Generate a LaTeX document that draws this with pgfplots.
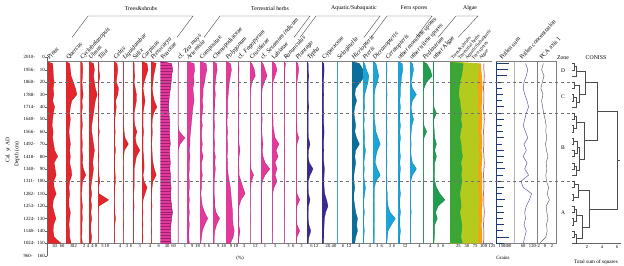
\documentclass[border=0pt]{standalone}
\usepackage{pgfplots}
\pgfplotsset{compat=1.18}
\usepackage{pgfplotstable}
\usepackage{fontspec}
\setmainfont{Liberation Serif}
\usetikzlibrary{patterns}

\definecolor{treefill}{HTML}{E3262B}
\definecolor{treeline}{HTML}{A8141A}
\definecolor{treeax}{HTML}{E0A0A0}
\definecolor{herbfill}{HTML}{E2399A}
\definecolor{herbline}{HTML}{9E1F72}
\definecolor{herbax}{HTML}{DDA2D2}
\definecolor{aquafill}{HTML}{3B2B90}
\definecolor{aquaax}{HTML}{A49CCF}
\definecolor{fernfill}{HTML}{1AA5D8}
\definecolor{fernline}{HTML}{0B6E9A}
\definecolor{fernax}{HTML}{8FD3E6}
\definecolor{algfill}{HTML}{1F9E4F}
\definecolor{algax}{HTML}{8FCFA6}
\definecolor{sgreen}{HTML}{3BA535}
\definecolor{sylw}{HTML}{B4CB1E}
\definecolor{sorng}{HTML}{F7A11A}
\definecolor{navy}{HTML}{1F3B73}
\definecolor{concl}{HTML}{5C5CA8}

\newcommand\ts{\fontsize{4.6}{5}\selectfont}
\newcommand\hs{\fontsize{6.2}{7}\selectfont}

\pgfplotstableread{
d Pin Que Cyc Ulm Til Cel Liq Sal Car Pte
3.5 0 0 0 0 0 0 0 0 0 0
5 22 5 1 5 1 2 0.5 0.5 2.5 4
10 24 6 1.2 6 1 2.5 0.5 0.5 3 3
15 25 7 1 5 2 2 0.5 0.8 2 2
20 28 10 0.8 6 1 1.5 0.5 0.5 1 1.5
25 24 13 1 7 0.5 3 0.3 1 0.5 1
30 27 15 1.4 9 1 2.5 0.5 1.5 1 1.5
35 22 8 0.8 7 0.5 1 0.5 1.5 1.5 2.5
40 30 6 1 6 1 1.5 0.5 1 1 4.5
45 25 5 0.6 5 0.5 1 0.3 0.5 0.5 2
50 22 6 0.8 4 1 0.5 0.5 0.5 0.5 1
55 20 5 1 3 0.5 0.5 0.5 0.8 0.5 0.8
60 24 4 0.7 3 1.5 0.8 0.8 1.7 0.8 1
65 22 5 0.8 4 0.5 0.5 1.5 1 0.5 0.8
70 26 6 1 5 0.5 0.5 4 1.5 0.5 0.5
75 30 5 0.8 6 0.5 1 1 3 0.5 0.8
80 42 6 1.2 5 1 0.5 0.5 1.5 0.8 1
85 28 5 1 4 0.5 0.5 0.3 1 1 1.5
90 32 7 1.5 5 0.5 0.5 0.5 0.5 1 2.5
95 36 8 2.8 4 1 0.8 0.5 0.5 0.5 4
100 26 5 1 3 2 1 0.3 0.5 1 1.5
105 28 4 0.8 2 0.5 0.5 0.5 0.5 2.5 0.8
110 36 5 0.6 3 1 0.5 0.3 0.3 1.5 0.5
115 25 4 0.7 2 12 0.3 0.3 0.3 0.5 0.5
120 22 4 1 3 1 0.5 0.5 0.5 0.3 0.8
125 28 6 0.8 2 0.5 0.5 0.3 0.3 0.5 0.5
130 35 5 1 3 0.5 1 0.3 0.3 0.3 0.5
135 26 4 0.7 2 0.5 0.5 0.5 0.3 0.5 0.3
140 24 5 0.8 2 0.5 0.3 0.3 0.3 0.3 0.5
145 28 5 0.6 3 0.3 0.5 0.3 0.3 0.5 0.3
150 55 7 1 2 0.5 0.3 0.3 0.3 0.3 0.5
150 0 0 0 0 0 0 0 0 0 0
}\trees

\pgfplotstableread{
d Poa Zea Art Com Che Pol Fag Cru Ses Lab Ran Pla
3.5 0 0 0 0 0 0 0 0 0 0 0 0
5 50 0.1 12 4 6 8 0.3 4 0.5 3 1 1
10 55 0 13 4.5 7 10 0.5 10 1 5 0.5 1.5
15 50 0 11 3.5 5 8 0.3 12 1.5 3 0.5 1
20 48 0 12 3 4 6 0.5 4 0.8 1 0.5 0.5
25 45 0 10 2 3 5 0.3 2 0.3 0.5 0.3 0.3
30 40 0 11 2 4 4 0.5 1 0.2 0.5 0.5 0.3
35 38 0 12 1.5 3 3 0.3 1 0.2 0.5 0.3 0.3
40 36 0 10 2 3 3 0.3 1 0.2 0.5 0.3 0.3
45 38 0 9 1.5 2 3 0.5 0.5 0.2 0.5 0.5 0.3
50 40 0 8 1 2 2 0.3 1 0.3 1 0.3 0.3
55 42 0 7 1.5 3 2 0.3 0.5 0.2 1 0.3 0.5
60 40 0.2 6 1 2 3 0.5 1 0.2 2 0.5 0.5
65 42 1 5 1 2 2 0.3 0.5 0.3 3 0.3 1.5
70 44 0.3 5 1.5 3 3 0.5 1 0.5 7 0.3 0.5
75 40 0 4 1 2 3 1 1 0.3 4 0.5 0.3
80 42 0 5 2 4 2 0.5 1 0.5 6 0.3 0.3
85 44 0 4 1 3 3 0.3 1 1 3 0.3 0.3
90 42 0 4 1 4 3 0.5 2 2.2 5 0.5 0.3
95 45 0 3 1.5 3 4 0.5 8 1 3 0.3 0.3
100 44 0 4 1 2 6 1.5 3 0.3 5 0.3 0.3
105 48 0 4 1 2 8 2.5 1 0.2 2 0.5 0.3
110 46 0 3 0.5 2 9 3.5 0.5 0.2 0.5 0.3 0.5
115 47 0 4 1 3 10 1.5 1 0.2 0.5 0.3 2
120 50 0 3 1.5 3 11 0.5 0.5 0.2 0.5 0.3 0.5
125 54 0 4 3 5 12 0.3 0.5 0.2 0.5 0.5 0.3
130 50 0 3 5 11 12 0.5 1 0.2 0.5 0.3 0.3
135 47 0 4 3 6 13 0.3 0.5 0.2 0.5 0.3 0.5
140 45 0 3 1.5 3 15 1 0.5 0.2 0.5 0.3 2
145 46 0 3 1 2 13 0.5 0.3 0.2 0.3 0.3 0.5
150 48 0 4 0.5 2 8 0.3 0.5 0.2 0.3 0.3 0.3
150 0 0 0 0 0 0 0 0 0 0 0 0
}\herbs

\pgfplotstableread{
d Typ Cyp Sel Hic Pte Dic Cer Mon Tri Ped Alg
3.5 0 0 0 0 0 0 0 0 0 0 0
5 1.5 6 0.5 4 1 2 0.5 7 1 2 0.5
10 1.5 7 0.5 6 2 3 0.8 8 1.5 4 0.5
15 2.5 6 0.5 7 3.5 4 0.5 6 1 5 0.5
20 1.5 5 0.3 4.5 3 3 0.5 5 0.5 2 0.3
25 1.5 5 0.3 2 2 1.5 0.5 4 1 0.5 0.5
30 1.5 6 0.5 1.5 1 1 0.8 4 2.7 0.3 0.5
35 1.5 5 0.3 2.5 0.8 1 0.5 3 1 0.3 0.3
40 2.5 5 0.3 1.5 1 1 0.5 4 0.5 0.3 0.5
45 1.5 6 0.3 1 0.5 0.8 0.5 3 0.8 0.3 2
50 1.5 5 0.5 1.5 0.8 1 0.8 3 1.5 0.3 0.5
55 1.5 6 0.3 2 0.5 1.5 0.5 4 0.8 0.5 0.5
60 1.5 7 0.3 1.5 0.8 2 0.8 3 0.5 2 0.8
65 2 6 0.3 2.5 1 3.5 0.5 4 0.3 0.5 1
70 4 5 0.3 4 0.8 5 0.8 3 0.5 0.3 2
75 2 6 0.3 2 1.5 3 0.5 3 0.3 0.3 1
80 1.5 5 0.5 1.5 1 2 0.5 4 0.5 0.3 2
85 3 6 0.3 2 0.5 1.5 0.8 3 1 0.3 1
90 8 8 0.3 1.5 0.8 3 0.5 4 2.7 0.3 1
95 4 7 0.3 1 0.5 5 0.5 3 1 0.3 0.8
100 1.5 6 0.3 1 0.8 2 0.8 3 0.3 0.3 1
105 1.5 7 0.3 1.5 1.5 1 0.5 3 0.3 0.3 2
110 2 9 0.3 1 1 1 1 4 0.3 0.3 4
115 4 15 0.3 1 0.5 0.8 1 3 0.3 0.3 7
120 2 20 0.3 1.5 0.5 1 1.5 3 0.3 0.3 3
125 1.5 12 0.3 2 0.8 1 3 4 0.5 0.3 1.5
130 1.5 8 0.3 3 0.5 1 7 3 0.3 0.3 2.5
135 2.5 7 0.3 2.5 0.5 0.8 4 3 0.3 0.3 1
140 5 6 0.3 3 0.8 1 1.5 4 0.3 0.3 1
145 2.5 6 0.3 2 0.5 0.8 1 3 0.3 0.3 0.8
150 1.5 5 0.3 1.5 0.5 0.8 0.5 3 0.3 0.3 0.5
150 0 0 0 0 0 0 0 0 0 0 0
}\others

\pgfplotstableread{
d T H A
3.5 0 0 0
5 40 85 92
10 38 86 93
15 35 84 95
20 30 83 96
25 28 82 97
30 26 84 95
35 30 83 96
40 32 82 94
45 35 86 95
50 33 85 96
55 36 84 95
60 32 83 94
65 30 87 95
70 34 85 96
75 35 84 94
80 38 88 96
85 33 85 95
90 36 84 94
95 34 83 95
100 36 86 96
105 33 84 95
110 30 85 96
115 32 86 97
120 34 85 96
125 30 84 95
130 33 86 96
135 36 85 94
140 35 84 95
145 33 83 96
150 38 86 95
150 0 0 0
}\stack

\pgfplotstableread{
d PS CO PC L
5 320 75 -0.5 101
10 300 90 -1 101
15 280 80 -0.3 102
20 200 65 -0.8 101
25 150 60 -1.2 100
30 180 70 -0.6 101
35 160 85 -1 101
40 200 95 -0.7 100
45 170 80 -0.4 101
50 210 70 0 102
55 150 60 0.3 101
60 180 75 0.2 100
65 200 90 0.5 101
70 160 65 0.1 101
75 190 80 0.4 100
80 210 60 0.8 101
85 180 85 0.3 102
90 220 70 0.5 101
95 170 95 0.2 100
100 200 45 0.4 101
105 190 60 1 101
110 160 115 0.6 100
115 220 100 1.2 101
120 180 80 0.3 101
125 200 70 0.5 102
130 170 75 0.8 101
135 210 65 0.4 100
140 180 80 0.6 101
145 320 70 0.2 101
150 200 60 -1.5 100
}\lines

\pgfplotsset{
  panel/.style={scale only axis, anchor=north west, height=181.66bp,
    ymin=3.5, ymax=150, y dir=reverse, xmin=0,
    axis x line=box, axis y line=left, axis line style={-}, ytick=\empty,
    x axis line style={black!50, line width=0.35pt},
    xtick pos=left, xticklabel pos=left,
    tick align=outside, major tick length=0.8bp,
    tick style={black!60, line width=0.3pt},
    xticklabel style={font=\ts, inner sep=0.5pt},
    /pgf/number format/assume math mode=true, clip=false},
  pan/.style n args={5}{at={(#1bp,-61.64bp)}, width=#2bp, xmax=#3, xtick={#4},
    y axis line style={#5, line width=0.5pt}},
  tf/.style={fill=treefill, draw=treeline, line width=0.25pt},
  hf/.style={fill=herbfill, draw=herbline, line width=0.25pt},
  af/.style={fill=aquafill, draw=aquafill!70!black, line width=0.25pt},
  ff/.style={fill=fernfill, draw=fernline, line width=0.25pt},
  gf/.style={fill=algfill, draw=algfill!70!black, line width=0.25pt},
}
\tikzset{hdr/.style={rotate=48, anchor=base west, font=\hs, inner sep=0pt},
         shdr/.style={rotate=50, anchor=base west, font=\fontsize{4.8}{5}\selectfont, inner sep=0pt}}

\begin{document}
\begin{tikzpicture}
\useasboundingbox (0bp,0bp) rectangle (624bp,-266bp);

% ---------- Trees & shrubs ----------
\begin{axis}[panel, pan={47}{19}{75}{30,60}{treeax}]
\addplot[tf] table[x=Pin,y=d]{\trees};
\end{axis}
\begin{axis}[panel, pan={66}{14.5}{20}{8,12}{treeax}]
\addplot[tf] table[x=Que,y=d]{\trees};
\end{axis}
\begin{axis}[panel, pan={80.5}{8.5}{4.5}{2,4}{treeax}]
\addplot[tf] table[x=Cyc,y=d]{\trees};
\end{axis}
\begin{axis}[panel, pan={89}{9}{10}{4,8}{treeax}]
\addplot[tf] table[x=Ulm,y=d]{\trees};
\end{axis}
\begin{axis}[panel, pan={98}{16}{18}{5,10}{treeax}]
\addplot[tf] table[x=Til,y=d]{\trees};
\end{axis}
\begin{axis}[panel, pan={114}{9}{6}{4}{treeax}]
\addplot[tf] table[x=Cel,y=d]{\trees};
\end{axis}
\begin{axis}[panel, pan={123}{10}{7.5}{3,6}{treeax}]
\addplot[tf] table[x=Liq,y=d]{\trees};
\end{axis}
\begin{axis}[panel, pan={133}{9}{4}{3}{treeax}]
\addplot[tf] table[x=Sal,y=d]{\trees};
\end{axis}
\begin{axis}[panel, pan={142}{9}{4.5}{4}{treeax}]
\addplot[tf] table[x=Car,y=d]{\trees};
\end{axis}
\begin{axis}[panel, pan={151}{9.7}{7.5}{6}{treeax}]
\addplot[tf] table[x=Pte,y=d]{\trees};
\end{axis}

% ---------- Terrestrial herbs ----------
\begin{axis}[panel, pan={160.7}{17.3}{80}{30,60}{herbax}]
\addplot[hf, postaction={pattern=horizontal lines, pattern color=herbline}] table[x=Poa,y=d]{\herbs};
\end{axis}
\begin{axis}[panel, pan={178}{9}{1.3}{1}{herbax}]
\addplot[hf] table[x=Zea,y=d]{\herbs};
\end{axis}
\begin{axis}[panel, pan={187}{13}{22}{9,18}{herbax}]
\addplot[hf] table[x=Art,y=d]{\herbs};
\end{axis}
\begin{axis}[panel, pan={200}{13}{8.5}{3,6}{herbax}]
\addplot[hf] table[x=Com,y=d]{\herbs};
\end{axis}
\begin{axis}[panel, pan={213}{13}{22}{9,18}{herbax}]
\addplot[hf] table[x=Che,y=d]{\herbs};
\end{axis}
\begin{axis}[panel, pan={226}{12}{22}{9,18}{herbax}]
\addplot[hf] table[x=Pol,y=d]{\herbs};
\end{axis}
\begin{axis}[panel, pan={238}{12}{6}{3}{herbax}]
\addplot[hf] table[x=Fag,y=d]{\herbs};
\end{axis}
\begin{axis}[panel, pan={250}{11}{25}{12}{herbax}]
\addplot[hf] table[x=Cru,y=d]{\herbs};
\end{axis}
\begin{axis}[panel, pan={261}{11}{2.75}{1}{herbax}]
\addplot[hf] table[x=Ses,y=d]{\herbs};
\end{axis}
\begin{axis}[panel, pan={272}{12}{12}{3}{herbax}]
\addplot[hf] table[x=Lab,y=d]{\herbs};
\end{axis}
\begin{axis}[panel, pan={284}{12}{8}{3,6}{herbax}]
\addplot[hf] table[x=Ran,y=d]{\herbs};
\end{axis}
\begin{axis}[panel, pan={296}{11}{6}{3}{herbax}]
\addplot[hf] table[x=Pla,y=d]{\herbs};
\end{axis}

% ---------- Aquatic ----------
\begin{axis}[panel, pan={307}{15}{20}{6,12}{aquaax}]
\addplot[af] table[x=Typ,y=d]{\others};
\end{axis}
\begin{axis}[panel, pan={322}{15}{50}{20,40}{aquaax}]
\addplot[af] table[x=Cyp,y=d]{\others};
\end{axis}

% ---------- Fern spores ----------
\begin{axis}[panel, pan={337}{15}{15}{6,12}{fernax}]
\addplot[ff] table[x=Sel,y=d]{\others};
\end{axis}
\begin{axis}[panel, pan={352}{11}{6}{4}{fernax}]
\addplot[fill=fernline, draw=fernline!70!black, line width=0.25pt] table[x=Hic,y=d]{\others};
\end{axis}
\begin{axis}[panel, pan={363}{10}{6}{4}{fernax}]
\addplot[ff] table[x=Pte,y=d]{\others};
\end{axis}
\begin{axis}[panel, pan={373}{13}{9}{3,6}{fernax}]
\addplot[ff] table[x=Dic,y=d]{\others};
\end{axis}
\begin{axis}[panel, pan={386}{12}{9}{3,6}{fernax}]
\addplot[ff] table[x=Cer,y=d]{\others};
\end{axis}
\begin{axis}[panel, pan={398}{12}{20}{12}{fernax}]
\addplot[ff] table[x=Mon,y=d]{\others};
\end{axis}
\begin{axis}[panel, pan={410}{13}{5.5}{4}{fernax}]
\addplot[ff] table[x=Tri,y=d]{\others};
\end{axis}

% ---------- Algae ----------
\begin{axis}[panel, pan={423}{10}{5.5}{4}{algax}]
\addplot[gf] table[x=Ped,y=d]{\others};
\end{axis}
\begin{axis}[panel, pan={433}{17}{10}{3,6}{algax}]
\addplot[gf] table[x=Alg,y=d]{\others};
\end{axis}

% ---------- Summary ----------
\begin{axis}[panel, pan={450}{42}{125}{25,50,75,100,125}{sgreen}]
\addplot[fill=sorng, draw=none] table[x=A,y=d]{\stack};
\addplot[fill=sylw, draw=none] table[x=H,y=d]{\stack};
\addplot[fill=sgreen, draw=none] table[x=T,y=d]{\stack};
\addplot[color=treeline, line width=0.5pt] table[x=L,y=d]{\lines};
\end{axis}
\begin{axis}[panel, pan={496}{18}{450}{150,300}{navy}]
\addplot[xcomb, color=navy, line width=1.1pt] table[x=PS,y=d]{\lines};
\end{axis}
\begin{axis}[panel, pan={514}{23}{150}{60,120}{black!30}]
\addplot[color=concl, line width=0.5pt] table[x=CO,y=d]{\lines};
\end{axis}
\begin{axis}[panel, pan={537}{19}{3.1}{-2,0,2}{black!50}, xmin=-2.3, axis y line=box]
\addplot[color=black!65, line width=0.45pt] table[x=PC,y=d]{\lines};
\end{axis}

% ---------- CONISS ----------
\begin{axis}[scale only axis, anchor=north west, at={(572bp,-61.64bp)},
  width=48.75bp, height=181.66bp, ymin=3.5, ymax=150, y dir=reverse,
  xmin=0, xmax=6.5, axis x line=bottom, axis y line=none, axis line style={-, black!60, line width=0.35pt},
  xtick={2,4,6}, tick align=outside, major tick length=1bp,
  xticklabel style={font=\ts, inner sep=0.5pt},
  /pgf/number format/assume math mode=true, clip=false, unbounded coords=jump]
\addplot[color=black!70, line width=0.4pt] table {
x y
0 5
0.3 5
0.3 10
0 10
nan nan
0.3 7.5
0.6 7.5
0.6 15
0 15
nan nan
0 20
0.25 20
0.25 25
0 25
nan nan
0 30
0.2 30
0.2 35
0 35
nan nan
0.2 32.5
0.5 32.5
0.5 40
0 40
nan nan
0.25 22.5
0.9 22.5
0.9 36.25
0.5 36.25
nan nan
0.6 11.25
1.8 11.25
1.8 29.375
0.9 29.375
nan nan
0 45
0.3 45
0.3 50
0 50
nan nan
0 55
0.2 55
0.2 60
0 60
nan nan
0.3 47.5
0.6 47.5
0.6 57.5
0.2 57.5
nan nan
0 65
0.15 65
0.15 70
0 70
nan nan
0 75
0.3 75
0.3 80
0 80
nan nan
0.15 67.5
0.7 67.5
0.7 77.5
0.3 77.5
nan nan
0 85
0.25 85
0.25 90
0 90
nan nan
0.25 87.5
0.5 87.5
0.5 95
0 95
nan nan
0.7 72.5
1.0 72.5
1.0 91.25
0.5 91.25
nan nan
0.6 52.5
1.6 52.5
1.6 81.875
1.0 81.875
nan nan
1.8 20.3
3.4 20.3
3.4 67.19
1.6 67.19
nan nan
0 100
0.3 100
0.3 105
0 105
nan nan
0 110
0.2 110
0.2 115
0 115
nan nan
0.3 102.5
0.8 102.5
0.8 112.5
0.2 112.5
nan nan
0 120
0.3 120
0.3 125
0 125
nan nan
0 130
0.2 130
0.2 135
0 135
nan nan
0.3 122.5
0.6 122.5
0.6 132.5
0.2 132.5
nan nan
0 140
0.3 140
0.3 145
0 145
nan nan
0.3 142.5
0.5 142.5
0.5 150
0 150
nan nan
0.6 127.5
1.3 127.5
1.3 146.25
0.5 146.25
nan nan
0.8 107.5
2.3 107.5
2.3 136.875
1.3 136.875
nan nan
3.4 43.75
6.0 43.75
6.0 122.19
2.3 122.19
nan nan
6.0 83
6.4 83
};
\end{axis}

% ---------- Main depth axis, zone lines, labels ----------
\begin{axis}[scale only axis, anchor=north west, at={(47bp,-57.3bp)},
  width=525bp, height=198.4bp, xmin=47, xmax=572, ymin=0, ymax=160, y dir=reverse,
  axis x line=none, axis y line=left, axis line style={-, black!60, line width=0.35pt},
  ytick={0,10,...,160}, tick align=outside, major tick length=1.5bp,
  tick style={black!60, line width=0.3pt},
  yticklabel style={font=\fontsize{4.8}{5}\selectfont, inner sep=0.6pt},
  yticklabels={
   {\makebox[13bp][l]{2010-}\makebox[8bp][r]{0}},
   {\makebox[13bp][l]{1956-}\makebox[8bp][r]{10}},
   {\makebox[13bp][l]{1860-}\makebox[8bp][r]{20}},
   {\makebox[13bp][l]{1788-}\makebox[8bp][r]{30}},
   {\makebox[13bp][l]{1714-}\makebox[8bp][r]{40}},
   {\makebox[13bp][l]{1640-}\makebox[8bp][r]{50}},
   {\makebox[13bp][l]{1566-}\makebox[8bp][r]{60}},
   {\makebox[13bp][l]{1492-}\makebox[8bp][r]{70}},
   {\makebox[13bp][l]{1418-}\makebox[8bp][r]{80}},
   {\makebox[13bp][l]{1340-}\makebox[8bp][r]{90}},
   {\makebox[13bp][l]{1311-}\makebox[8bp][r]{100}},
   {\makebox[13bp][l]{1282-}\makebox[8bp][r]{110}},
   {\makebox[13bp][l]{1253-}\makebox[8bp][r]{120}},
   {\makebox[13bp][l]{1224-}\makebox[8bp][r]{130}},
   {\makebox[13bp][l]{1148-}\makebox[8bp][r]{140}},
   {\makebox[13bp][l]{1024-}\makebox[8bp][r]{150}},
   {\makebox[13bp][l]{960-}\makebox[8bp][r]{160}}},
  clip=false]
\addplot[dashed, black!55, line width=0.45pt] coordinates {(47,20) (572,20)};
\addplot[dashed, black!55, line width=0.45pt] coordinates {(47,45) (572,45)};
\addplot[dashed, black!55, line width=0.45pt] coordinates {(47,100) (572,100)};
% group brackets
\addplot[black!70, line width=0.4pt] coordinates {(72,-16) (88,-33.3) (193,-33.3) (177,-16)};
\addplot[black!70, line width=0.4pt] coordinates {(204,-16) (220,-33.3) (310,-33.3) (294,-16)};
\addplot[black!70, line width=0.4pt] coordinates {(300,-16) (316,-33.3) (380,-33.3) (364,-16)};
\addplot[black!70, line width=0.4pt] coordinates {(371,-16) (387,-33.3) (432,-33.3) (416,-16)};
\addplot[black!70, line width=0.4pt] coordinates {(438,-16) (456,-33.3) (478,-33.3) (458,-16)};
\node[font=\fontsize{5.8}{6}\selectfont] at (axis cs:141,-39.5) {Trees\&shrubs};
\node[font=\fontsize{5.8}{6}\selectfont] at (axis cs:270,-39.5) {Terrestrial herbs};
\node[font=\fontsize{5.8}{6}\selectfont] at (axis cs:354,-39.5) {Aquatic/Subaquatic};
\node[font=\fontsize{5.8}{6}\selectfont] at (axis cs:414,-39.5) {Fern spores};
\node[font=\fontsize{5.8}{6}\selectfont] at (axis cs:470,-39.5) {Algae};
% taxon names
\node[hdr] at (axis cs:49.5,2.2) {\textit{Pinus}};
\node[hdr] at (axis cs:68.5,2.2) {\textit{Quercus}};
\node[hdr] at (axis cs:82.5,2.2) {\textit{Cyclobalanopsis}};
\node[hdr] at (axis cs:91,2.2) {\textit{Ulmus}};
\node[hdr] at (axis cs:100.5,2.2) {\textit{Tilia}};
\node[hdr] at (axis cs:116,2.2) {\textit{Celtis}};
\node[hdr] at (axis cs:125,2.2) {\textit{Liquidambar}};
\node[hdr] at (axis cs:135,2.2) {\textit{Salix}};
\node[hdr] at (axis cs:144,2.2) {\textit{Carpinus}};
\node[hdr] at (axis cs:153,2.2) {\textit{Pterocarya}};
\node[hdr] at (axis cs:163,2.2) {Poaceae};
\node[hdr] at (axis cs:180,2.2) {cf. \textit{Zea mays}};
\node[hdr] at (axis cs:189,2.2) {\textit{Artemisia}};
\node[hdr] at (axis cs:202,2.2) {Compositae};
\node[hdr] at (axis cs:215,2.2) {Chenopodiaceae};
\node[hdr] at (axis cs:228,2.2) {\textit{Polygonum}};
\node[hdr] at (axis cs:240,2.2) {cf. \textit{Fagopyrum}};
\node[hdr] at (axis cs:252,2.2) {Cruciferae};
\node[hdr] at (axis cs:263,2.2) {cf. \textit{Sesamum indicum}};
\node[hdr] at (axis cs:274,2.2) {Labiatae};
\node[hdr] at (axis cs:286,2.2) {\textit{Ranunculus}};
\node[hdr] at (axis cs:298,2.2) {\textit{Plantago}};
\node[hdr] at (axis cs:309.5,2.2) {\textit{Typha}};
\node[hdr] at (axis cs:324.5,2.2) {Cyperaceae};
\node[hdr] at (axis cs:339.5,2.2) {\textit{Selaginella}};
\node[hdr] at (axis cs:354,2.2) {\textit{Hicriopteris}};
\node[hdr] at (axis cs:365,2.2) {\textit{Pteris}};
\node[hdr] at (axis cs:375,2.2) {\textit{Dicranopteris}};
\node[hdr] at (axis cs:388,2.2) {\textit{Ceratopteris}};
\node[hdr] at (axis cs:400,2.2) {other monolete spores};
\node[hdr] at (axis cs:412,2.2) {other trilete spores};
\node[hdr] at (axis cs:425,2.2) {\textit{Pediastrum}};
\node[hdr] at (axis cs:435,2.2) {other Algae};
\node[shdr] at (axis cs:453,2.2) {Trees\& shrubs};
\node[shdr] at (axis cs:460,2.2) {Terrestrial herbs};
\node[shdr] at (axis cs:467,2.2) {Aquatic/Subaquatic};
\node[shdr] at (axis cs:474,2.2) {Fern spores};
\node[shdr] at (axis cs:481,2.2) {Algae};
\node[hdr] at (axis cs:502,2.2) {Pollen sum};
\node[hdr] at (axis cs:522,2.2) {Pollen concentration};
\node[hdr] at (axis cs:542,2.2) {PCA axis 1};
\node[font=\fontsize{5.8}{6}\selectfont, anchor=base] at (axis cs:563,1.6) {Zone};
\node[font=\fontsize{5.8}{6}\selectfont, anchor=base] at (axis cs:596,1.6) {CONISS};
% zone letters
\node[font=\fontsize{5.5}{6}\selectfont] at (axis cs:563,11) {D};
\node[font=\fontsize{5.5}{6}\selectfont] at (axis cs:563,32) {C};
\node[font=\fontsize{5.5}{6}\selectfont] at (axis cs:563,73) {B};
\node[font=\fontsize{5.5}{6}\selectfont] at (axis cs:563,125) {A};
% bottom labels
\node[font=\fontsize{5}{6}\selectfont] at (axis cs:240,162) {(\%)};
\node[font=\fontsize{5}{6}\selectfont] at (axis cs:503,162) {Grains};
\node[font=\fontsize{5.3}{6}\selectfont] at (axis cs:596,165.5) {Total sum of squares};
% y titles
\node[font=\fontsize{5.5}{6}\selectfont, rotate=90] at (axis cs:8,75) {Cal. yr AD};
\node[font=\fontsize{5.5}{6}\selectfont, rotate=90] at (axis cs:17,78) {Depth (cm)};
\end{axis}
\end{tikzpicture}
\end{document}
